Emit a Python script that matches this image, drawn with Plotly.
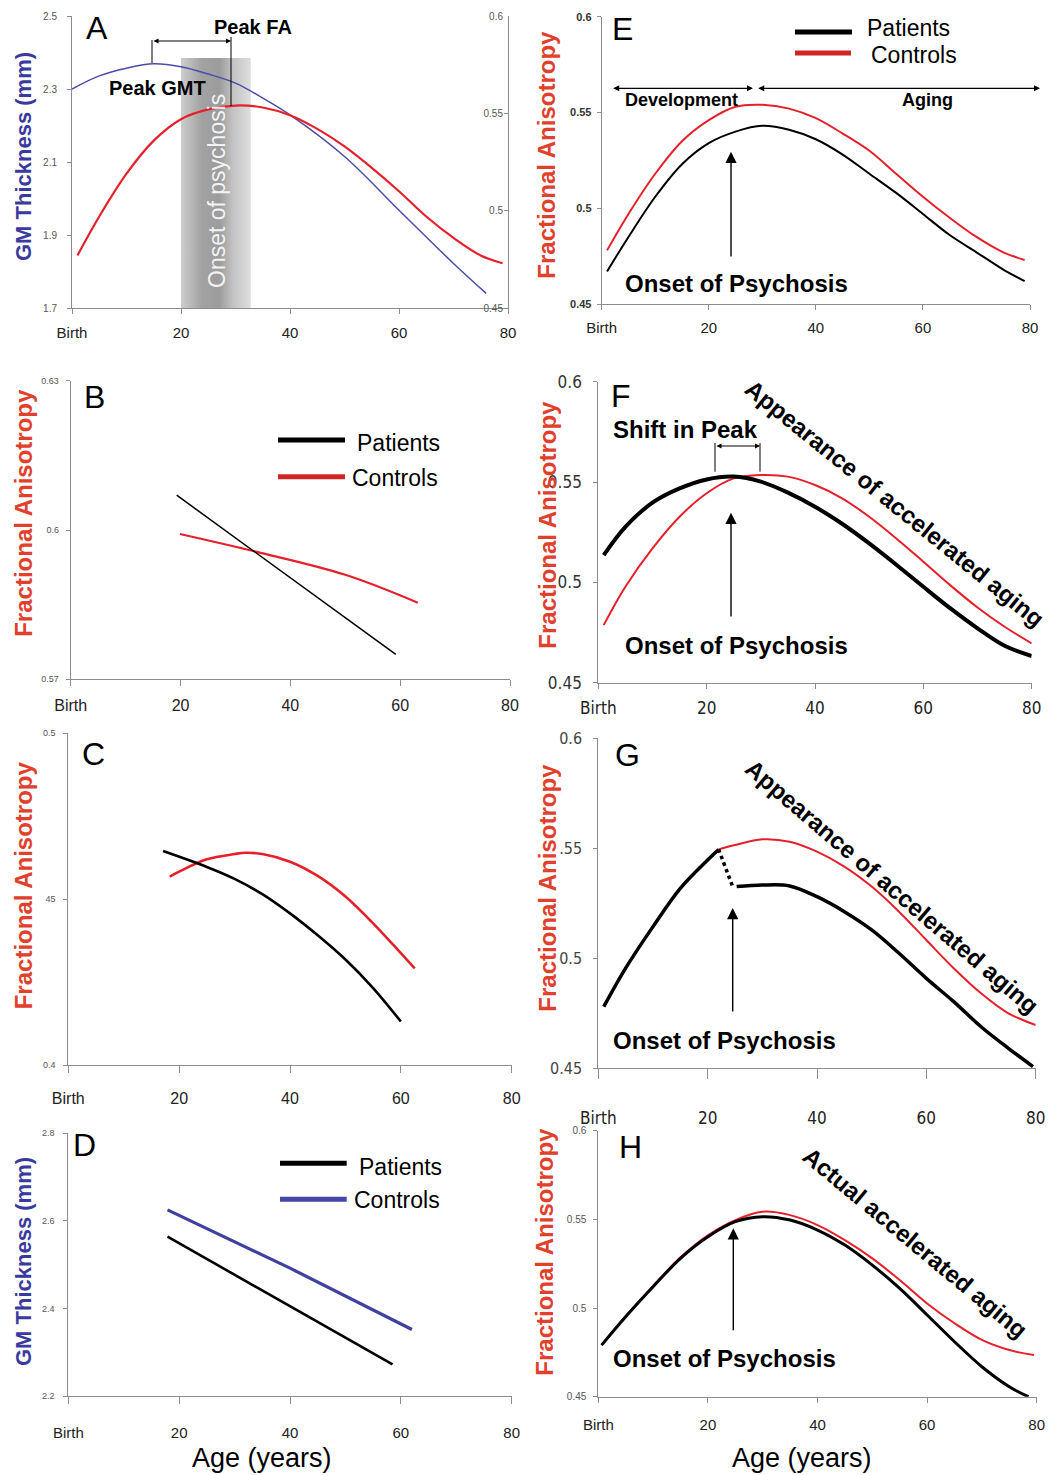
import plotly.graph_objects as go

# ---------------- canvas ----------------
# The page body adds an 8px margin, so the figure is a little smaller and
# all page-pixel positions are shifted by OFF.
OFF = 8
W, H = 1060 - OFF, 1475 - OFF


def fx(x):
    return (x - OFF) / W


def fy(y):
    return 1 - (y - OFF) / H


FONT = "Liberation Sans, Arial, Helvetica, sans-serif"
NARROW = "Liberation Sans Narrow, Arial Narrow, DejaVu Sans Condensed, sans-serif"
RED = "#e5202b"
BLACK = "#000000"
BLUE_A = "#4c4ca6"
BLUE_D = "#4040a0"
TITLE_RED = "#e0402c"
TITLE_BLUE = "#3a3a9e"
AXIS_GRAY = "#8c8c8c"

# ---------------- data ----------------
TICK_VALS = [0, 20, 40, 60, 80]
TICK_TEXT = ["Birth", "20", "40", "60", "80"]

# Panel A: GM thickness (left axis) and FA (right axis)
A_GMT_AGE = [0, 5, 10, 15, 20, 25, 30, 35, 40, 50, 60, 70, 76]
A_GMT = [2.300, 2.336, 2.357, 2.369, 2.361, 2.341, 2.316, 2.275, 2.229, 2.115, 1.968, 1.822, 1.740]
A_FA_AGE = [1, 5, 10, 15, 20, 25, 30, 35, 40, 45, 50, 55, 60, 65, 70, 75, 79]
A_FA = [0.477, 0.497, 0.519, 0.536, 0.547, 0.552, 0.554, 0.553, 0.549, 0.542, 0.533,
        0.522, 0.510, 0.497, 0.486, 0.477, 0.473]
A_ONSET_BAND_AGE = [20, 32.8]
A_ONSET_BAND_TOP = 2.385

# Panel B: FA, linear trends
B_PAT_AGE = [19.3, 59.2]
B_PAT = [0.607, 0.575]
B_CTRL_AGE = [19.9, 33.9, 50, 63.2]
B_CTRL = [0.5992, 0.5956, 0.5910, 0.5854]

# Panel C: FA, quadratic trends
C_PAT_AGE = [17.1, 25, 30, 35, 40, 45, 50, 55, 60]
C_PAT = [0.4645, 0.4597, 0.4561, 0.4515, 0.4457, 0.4391, 0.4318, 0.4232, 0.4131]
C_CTRL_AGE = [18.3, 20, 25, 30, 32, 35, 40, 45, 50, 55, 60, 62.5]
C_CTRL = [0.4568, 0.4583, 0.4620, 0.4636, 0.4640, 0.4636, 0.4613, 0.4570, 0.4508,
          0.4427, 0.4337, 0.4291]

# Panel D: GM thickness, linear trends
D_CTRL_AGE = [17.9, 40, 62]
D_CTRL = [2.625, 2.492, 2.352]
D_PAT_AGE = [17.9, 40, 58.5]
D_PAT = [2.564, 2.404, 2.272]

# Panel E
E_AGE = [1, 5, 10, 15, 20, 25, 30, 35, 40, 45, 50, 55, 60, 65, 70, 75, 79]
E_CTRL = [0.478, 0.497, 0.518, 0.535, 0.546, 0.553, 0.554, 0.552, 0.547, 0.539, 0.530,
          0.518, 0.506, 0.495, 0.485, 0.477, 0.473]
E_PAT = [0.467, 0.485, 0.506, 0.523, 0.534, 0.540, 0.543, 0.541, 0.536, 0.528, 0.518,
         0.508, 0.497, 0.486, 0.477, 0.468, 0.462]

# Panel F
F_AGE = [1, 5, 10, 15, 20, 25, 30, 35, 40, 45, 50, 55, 60, 65, 70, 75, 80]
F_PAT = [0.5136, 0.5277, 0.5397, 0.5468, 0.5513, 0.5527, 0.5502, 0.5447, 0.5377, 0.5292,
         0.5194, 0.5088, 0.4978, 0.4870, 0.4771, 0.4684, 0.4633]
F_CTRL = [0.4787, 0.4978, 0.5169, 0.5327, 0.5444, 0.5518, 0.5535, 0.5527, 0.5485, 0.5419,
          0.5327, 0.5219, 0.5103, 0.4985, 0.4875, 0.4779, 0.4696]

# Panel G
G_PRE_AGE = [1, 5, 10, 15, 20, 22]
G_PRE = [0.478, 0.4955, 0.5144, 0.5318, 0.5447, 0.5495]
G_DROP_AGE = [22, 24.7]
G_DROP = [0.5495, 0.5318]
G_PAT_AGE = [25.3, 30, 35, 40, 45, 50, 55, 60, 65, 70, 75, 79.5]
G_PAT = [0.5326, 0.5333, 0.5329, 0.5280, 0.5212, 0.5129, 0.5023, 0.4909, 0.4803, 0.4689,
         0.4591, 0.4508]
G_CTRL_AGE = [22, 25, 30, 35, 40, 45, 50, 55, 60, 65, 70, 75, 80]
G_CTRL = [0.5495, 0.5515, 0.5541, 0.5530, 0.5485, 0.5417, 0.5326, 0.5212, 0.5083, 0.4955,
          0.4841, 0.4750, 0.4697]

# Panel H
H_PAT_AGE = [0.6, 5, 10, 15, 20, 25, 30, 35, 40, 45, 50, 55, 60, 65, 70, 75, 78.5]
H_PAT = [0.4791, 0.4951, 0.5120, 0.5280, 0.5402, 0.5487, 0.5515, 0.5496, 0.5440, 0.5355,
         0.5242, 0.5111, 0.4961, 0.4810, 0.4669, 0.4556, 0.4500]
H_CTRL_AGE = [0.6, 5, 10, 15, 20, 25, 30, 35, 40, 45, 50, 55, 60, 65, 70, 75, 79.5]
H_CTRL = [0.4791, 0.4955, 0.5125, 0.5286, 0.5410, 0.5496, 0.5543, 0.5524, 0.5468, 0.5383,
          0.5280, 0.5158, 0.5026, 0.4914, 0.4820, 0.4763, 0.4735]

FA_TICKS = [0.45, 0.5, 0.55, 0.6]
FA_TEXT = ["0.45", "0.5", "0.55", "0.6"]

# ---------------- figure ----------------
fig = go.Figure()


def ax_id(n, kind):
    return kind if n == 1 else f"{kind}{n}"


def line(xs, ys, n, color, width, dash="solid", shape="spline", yaxis=None):
    fig.add_trace(go.Scatter(
        x=xs, y=ys, mode="lines",
        xaxis=ax_id(n, "x"), yaxis=yaxis or ax_id(n, "y"),
        line=dict(color=color, width=width, dash=dash, shape=shape, smoothing=1.0),
        hoverinfo="skip", showlegend=False))


# onset band in A (gradient)
b0, b1 = A_ONSET_BAND_AGE
fig.add_trace(go.Scatter(
    x=[b0, b1, b1, b0, b0],
    y=[1.7, 1.7, A_ONSET_BAND_TOP, A_ONSET_BAND_TOP, 1.7],
    mode="lines", fill="toself", line=dict(width=0, color="rgba(0,0,0,0)"),
    fillgradient=dict(type="horizontal",
                      colorscale=[[0, "#cdcdcd"], [0.3, "#a2a2a2"], [0.55, "#9c9c9c"],
                                  [0.75, "#c4c4c4"], [1, "#dedede"]]),
    xaxis="x", yaxis="y", hoverinfo="skip", showlegend=False))

line(A_GMT_AGE, A_GMT, 1, BLUE_A, 1.5)
line(A_FA_AGE, A_FA, 1, RED, 2.2, yaxis="y9")

line(B_CTRL_AGE, B_CTRL, 2, RED, 2.2)
line(B_PAT_AGE, B_PAT, 2, BLACK, 1.5, shape="linear")

line(C_CTRL_AGE, C_CTRL, 3, RED, 2.6)
line(C_PAT_AGE, C_PAT, 3, BLACK, 2.6)

line(D_CTRL_AGE, D_CTRL, 4, BLUE_D, 3.2, shape="linear")
line(D_PAT_AGE, D_PAT, 4, BLACK, 2.6, shape="linear")

line(E_AGE, E_CTRL, 5, RED, 2)
line(E_AGE, E_PAT, 5, BLACK, 2)

line(F_AGE, F_CTRL, 6, RED, 2)
line(F_AGE, F_PAT, 6, BLACK, 4)

line(G_CTRL_AGE, G_CTRL, 7, RED, 2)
line(G_PRE_AGE, G_PRE, 7, BLACK, 3.5)
line(G_DROP_AGE, G_DROP, 7, BLACK, 3.5, dash="dot", shape="linear")
line(G_PAT_AGE, G_PAT, 7, BLACK, 3.5)

line(H_CTRL_AGE, H_CTRL, 8, RED, 2)
line(H_PAT_AGE, H_PAT, 8, BLACK, 3)

# ---------------- axes ----------------
PANELS = [
    # n, x px, y px, y range, tickvals, ticktext, ytick font, y standoff, x font, x ticklen, x standoff
    (1, (72, 508), (16, 308), (1.7, 2.5), [1.7, 1.9, 2.1, 2.3, 2.5],
     ["1.7", "1.9", "2.1", "2.3", "2.5"], dict(size=10, color="#555", family=FONT), 8,
     dict(size=15, color="#222", family=FONT), 5, 6),
    (2, (70.7, 510), (380.7, 679.3), (0.57, 0.63), [0.57, 0.6, 0.63],
     ["0.57", "0.6", "0.63"], dict(size=9, color="#555", family=FONT), 5,
     dict(size=16, color="#222", family=FONT), 6, 5),
    (3, (68.3, 511.7), (733.3, 1065), (0.4, 0.5), [0.4, 0.45, 0.5],
     ["0.4", "45", "0.5"], dict(size=9, color="#555", family=FONT), 6,
     dict(size=16, color="#222", family=FONT), 7, 12),
    (4, (68.3, 511.7), (1133.3, 1396), (2.2, 2.8), [2.2, 2.4, 2.6, 2.8],
     ["2.2", "2.4", "2.6", "2.8"], dict(size=9, color="#555", family=FONT), 7,
     dict(size=15, color="#222", family=FONT), 7, 16),
    (5, (601.7, 1030), (16.7, 304), (0.45, 0.6), FA_TICKS, FA_TEXT,
     dict(size=11, color="#333", family=FONT, weight="bold"), 3,
     dict(size=15, color="#222", family=FONT), 5, 5),
    (6, (598.3, 1031.7), (381.7, 682.7), (0.45, 0.6), FA_TICKS, FA_TEXT,
     dict(size=17, color="#333", family=NARROW), 8,
     dict(size=17, color="#222", family=NARROW), 5, 5),
    (7, (598.3, 1035.7), (738.3, 1068.3), (0.45, 0.6), FA_TICKS,
     ["0.45", "0.5", ".55", "0.6"], dict(size=16, color="#444", family=NARROW), 8,
     dict(size=17, color="#222", family=NARROW), 10, 24),
    (8, (598.3, 1036.7), (1130.7, 1396.7), (0.45, 0.6), FA_TICKS, FA_TEXT,
     dict(size=10, color="#555", family=FONT), 5,
     dict(size=15, color="#222", family=FONT), 5, 9),
]

layout_axes = {}
for n, xp, yp, yr, ytv, ytt, ytf, ystand, xtf, xtlen, xstand in PANELS:
    xname = "xaxis" if n == 1 else f"xaxis{n}"
    yname = "yaxis" if n == 1 else f"yaxis{n}"
    layout_axes[xname] = dict(
        domain=[fx(xp[0]), fx(xp[1])], range=[0, 80], anchor=ax_id(n, "y"),
        tickmode="array", tickvals=TICK_VALS, ticktext=TICK_TEXT,
        showline=True, linecolor=AXIS_GRAY, linewidth=1,
        ticks="outside", ticklen=xtlen, tickcolor=AXIS_GRAY, tickwidth=1,
        ticklabelstandoff=xstand, tickfont=xtf, automargin=False,
        showgrid=False, zeroline=False, fixedrange=True)
    layout_axes[yname] = dict(
        domain=[fy(yp[1]), fy(yp[0])], range=list(yr), anchor=ax_id(n, "x"),
        tickmode="array", tickvals=ytv, ticktext=ytt,
        showline=True, linecolor=AXIS_GRAY, linewidth=1,
        ticks="outside", ticklen=4, tickcolor=AXIS_GRAY, tickwidth=1,
        ticklabelstandoff=ystand, tickfont=ytf, automargin=False,
        showgrid=False, zeroline=False, fixedrange=True)

layout_axes["yaxis9"] = dict(
    overlaying="y", anchor="x", side="right", range=[0.45, 0.6],
    tickmode="array", tickvals=FA_TICKS, ticktext=FA_TEXT,
    showline=True, linecolor=AXIS_GRAY, linewidth=1,
    ticks="inside", ticklen=4, tickcolor=AXIS_GRAY,
    ticklabelposition="inside", ticklabeloverflow="allow",
    tickfont=dict(size=10, color="#555", family=FONT), automargin=False,
    showgrid=False, zeroline=False, fixedrange=True)

# ---------------- annotations ----------------
annotations = []
shapes = []


def txt(s, x, y, size, color="#000", bold=False, angle=0, family=FONT):
    annotations.append(dict(
        text=f"<b>{s}</b>" if bold else s, x=fx(x), y=fy(y),
        xref="paper", yref="paper", showarrow=False,
        xanchor="center", yanchor="middle", textangle=angle,
        font=dict(size=size, color=color, family=family)))


def arrow(hx, hy, tx, ty, both=False, width=1.2, size=1.0, head=2):
    annotations.append(dict(
        text="", x=fx(hx), y=fy(hy), xref="paper", yref="paper",
        ax=tx - hx, ay=ty - hy, axref="pixel", ayref="pixel",
        showarrow=True, arrowhead=head, arrowsize=size, arrowwidth=width,
        arrowcolor="#000", arrowside="end+start" if both else "end",
        startarrowhead=head, startarrowsize=size))


def seg(x0, y0, x1, y1, color="#000", width=1):
    shapes.append(dict(type="line", xref="paper", yref="paper",
                       x0=fx(x0), y0=fy(y0), x1=fx(x1), y1=fy(y1),
                       line=dict(color=color, width=width)))


# panel letters
for letter, x, y in [("A", 96.7, 28.5), ("B", 94.2, 396.7), ("C", 93.3, 754),
                     ("D", 84.2, 1145), ("E", 622.5, 29), ("F", 620.8, 395.8),
                     ("G", 627, 755), ("H", 630, 1146.7)]:
    txt(letter, x, y, 32)

# y-axis titles
txt("GM Thickness (mm)", 23.3, 156.7, 22, TITLE_BLUE, True, -90)
txt("Fractional Anisotropy", 23.3, 512.5, 24, TITLE_RED, True, -90)
txt("Fractional Anisotropy", 23.3, 885, 24, TITLE_RED, True, -90)
txt("GM Thickness (mm)", 23.3, 1261.7, 22, TITLE_BLUE, True, -90)
txt("Fractional Anisotropy", 546.7, 155, 24, TITLE_RED, True, -90)
txt("Fractional Anisotropy", 546.7, 525, 24, TITLE_RED, True, -90)
txt("Fractional Anisotropy", 546.7, 888, 24, TITLE_RED, True, -90)
txt("Fractional Anisotropy", 545, 1251.7, 24, TITLE_RED, True, -90)

# x-axis titles
txt("Age (years)", 261.7, 1458, 27)
txt("Age (years)", 801.7, 1458, 27)

# Panel A annotations
txt("Peak FA", 252.5, 27, 20, bold=True)
txt("Peak GMT", 157.5, 88, 20, bold=True)
txt("Onset of psychosis", 217, 191, 23, "rgba(255,255,255,0.88)", angle=-90)
seg(152, 63, 152, 40)
seg(231, 37, 231, 106)
arrow(231, 41, 152, 41, both=True, width=1, size=1.0)

# Panel E annotations
seg(795, 32, 852, 32, BLACK, 5)
seg(795, 53, 851, 53, "#d02525", 5)
txt("Patients", 908.5, 28, 23)
txt("Controls", 913.5, 55, 23)
arrow(753, 88.3, 611.7, 88.3, both=True, width=1.2, size=1.0)
arrow(1040, 88.3, 756.7, 88.3, both=True, width=1.2, size=1.0)
txt("Development", 681.5, 100, 18, bold=True)
txt("Aging", 927, 100, 18, bold=True)
arrow(731, 151.7, 731, 258, width=1.4, size=1.6)
txt("Onset of Psychosis", 736.7, 283.3, 24, bold=True)

# Panel B legend
seg(278, 440, 345, 440, BLACK, 5)
seg(278, 476.7, 345, 476.7, "#d02525", 5)
txt("Patients", 398.3, 443.3, 23)
txt("Controls", 395, 478.3, 23)

# Panel D legend
seg(280, 1163.3, 346.7, 1163.3, BLACK, 5)
seg(280, 1199.3, 346.7, 1199.3, "#4646a6", 5)
txt("Patients", 400, 1166.7, 23)
txt("Controls", 396.7, 1200, 23)

# Panel F annotations
txt("Shift in Peak", 685.5, 430, 24, bold=True)
seg(715, 471.7, 715, 443)
seg(760, 471.7, 760, 443)
arrow(760, 446, 715, 446, both=True, width=1, size=1.0)
arrow(731, 512.7, 731, 618, width=1.4, size=1.6)
txt("Onset of Psychosis", 736.7, 645, 24, bold=True)
txt("Appearance of accelerated aging", 895, 503, 24, bold=True, angle=39)

# Panel G annotations
arrow(732.7, 908, 732.7, 1013, width=1.4, size=1.6)
txt("Onset of Psychosis", 724.2, 1040, 24, bold=True)
txt("Appearance of accelerated aging", 891.7, 886.7, 24, bold=True, angle=40.5)

# Panel H annotations
arrow(733.3, 1228.3, 733.3, 1331.7, width=1.4, size=1.6)
txt("Onset of Psychosis", 724.2, 1358.3, 24, bold=True)
txt("Actual accelerated aging", 915, 1242.5, 24, bold=True, angle=39.7)

fig.update_layout(
    template="none",
    width=W, height=H, autosize=False,
    margin=dict(l=0, r=0, t=0, b=0, pad=0),
    paper_bgcolor="white", plot_bgcolor="white",
    showlegend=False, hovermode=False,
    font=dict(family=FONT, color="#000"),
    annotations=annotations, shapes=shapes,
    **layout_axes)

fig.write_html("out.html")
